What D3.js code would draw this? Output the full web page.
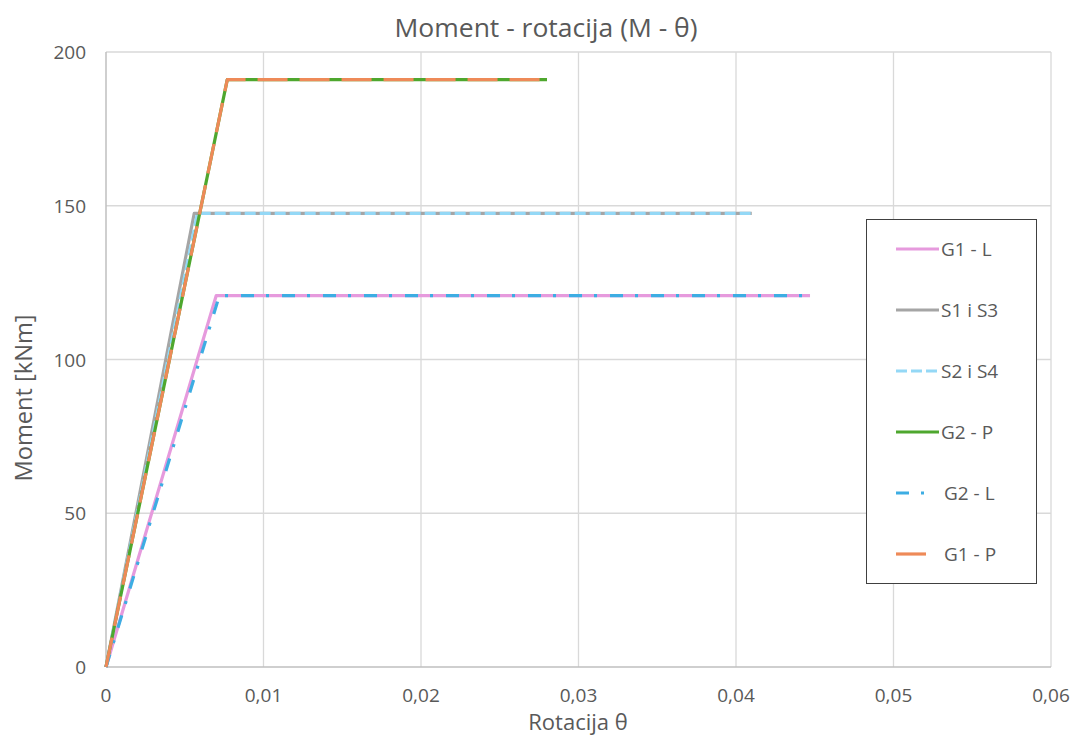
<!DOCTYPE html>
<html><head><meta charset="utf-8">
<script src="https://cdn.jsdelivr.net/npm/d3@7"></script>
<style>body{margin:0;background:#fff}svg{display:block}text{font-family:"Open Sans","Liberation Sans",Arial,sans-serif;fill:#595959}</style>
</head><body><svg id="c" width="1080" height="738"></svg>
<script>
const seriesNames = ["G1 - L","S1 i S3","S2 i S4","G2 - P","G2 - L","G1 - P"];
const G1L = [[0,0],[0.0070,120.8],[0.0447,120.8]];
const S1S3 = [[0,0],[0.0056,147.5],[0.0410,147.5]];
const S2S4 = [[0,0],[0.0058,147.5],[0.0410,147.5]];
const G2P = [[0,0],[0.0077,191],[0.0280,191]];
const G2L = [[0,0],[0.0072,120.8],[0.0447,120.8]];
const G1P = [[0,0],[0.0077,191],[0.0280,191]];
const xTicks = [0,0.01,0.02,0.03,0.04,0.05,0.06];
const yTicks = [0,50,100,150,200];
const colors = ["#E69ADD","#A5A5A5","#94D8F6","#4EA72E","#3DADE3","#EE8A58"];
const dashes = [null,null,"11,4",null,"13,12,3,13","30,12"];
const legendLen = [43,43,43,43,41,41];
const data = [G1L,S1S3,S2S4,G2P,G2L,G1P];

const svg = d3.select("#c");
const m = {l:106,r:1051,t:52,b:667};
const x = d3.scaleLinear().domain([0,0.06]).range([m.l,m.r]);
const y = d3.scaleLinear().domain([0,200]).range([m.b,m.t]);

// grid
svg.append("g").selectAll("line").data(xTicks.slice(1)).join("line")
 .attr("x1",d=>x(d)).attr("x2",d=>x(d)).attr("y1",m.t).attr("y2",m.b)
 .attr("stroke","#D9D9D9").attr("stroke-width",1.3);
svg.append("g").selectAll("line").data(yTicks.slice(1)).join("line")
 .attr("x1",m.l).attr("x2",m.r).attr("y1",d=>y(d)).attr("y2",d=>y(d))
 .attr("stroke","#D9D9D9").attr("stroke-width",1.3);
// axes lines
svg.append("line").attr("x1",m.l).attr("x2",m.l).attr("y1",m.t).attr("y2",m.b).attr("stroke","#BFBFBF").attr("stroke-width",1.5);
svg.append("line").attr("x1",m.l).attr("x2",m.r).attr("y1",m.b).attr("y2",m.b).attr("stroke","#BFBFBF").attr("stroke-width",1.5);

const fmt = d => d===0 ? "0" : d3.format(".2f")(d).replace(".",",");
svg.append("g").selectAll("text").data(xTicks).join("text")
 .attr("x",d=>x(d)).attr("y",702).attr("text-anchor","middle").attr("font-size",19).text(fmt);
svg.append("g").selectAll("text").data(yTicks).join("text")
 .attr("x",86).attr("y",d=>y(d)+7).attr("text-anchor","end").attr("font-size",19).text(d=>d);

// lines
const line = d3.line().x(d=>x(d[0])).y(d=>y(d[1]));
data.forEach((s,i)=>{
  svg.append("path").attr("d",line(s)).attr("fill","none").attr("stroke",colors[i])
   .attr("stroke-width",3.2).attr("stroke-linejoin","round")
   .attr("stroke-dasharray",dashes[i]);
});

// titles
svg.append("text").attr("x",546).attr("y",37).attr("text-anchor","middle").attr("font-size",25)
 .attr("textLength",303).attr("lengthAdjust","spacingAndGlyphs").text("Moment - rotacija (M - θ)");
svg.append("text").attr("x",578).attr("y",730).attr("text-anchor","middle").attr("font-size",22).text("Rotacija θ");
svg.append("text").attr("transform","translate(32,398) rotate(-90)").attr("text-anchor","middle").attr("font-size",24)
 .attr("textLength",167).attr("lengthAdjust","spacingAndGlyphs").text("Moment [kNm]");

// legend
const lg = svg.append("g");
lg.append("rect").attr("x",866.5).attr("y",219.5).attr("width",170).attr("height",364).attr("fill","#fff").attr("stroke","#404040").attr("stroke-width",1);
seriesNames.forEach((n,i)=>{
  const yy = 249 + i*61;
  lg.append("line").attr("x1",896).attr("x2",896+legendLen[i]).attr("y1",yy).attr("y2",yy)
    .attr("stroke",colors[i]).attr("stroke-width",3.2).attr("stroke-dasharray",dashes[i]);
  lg.append("text").attr("x",i>=4?944:941).attr("y",yy+7).attr("font-size",19).text(n);
});
</script></body></html>
